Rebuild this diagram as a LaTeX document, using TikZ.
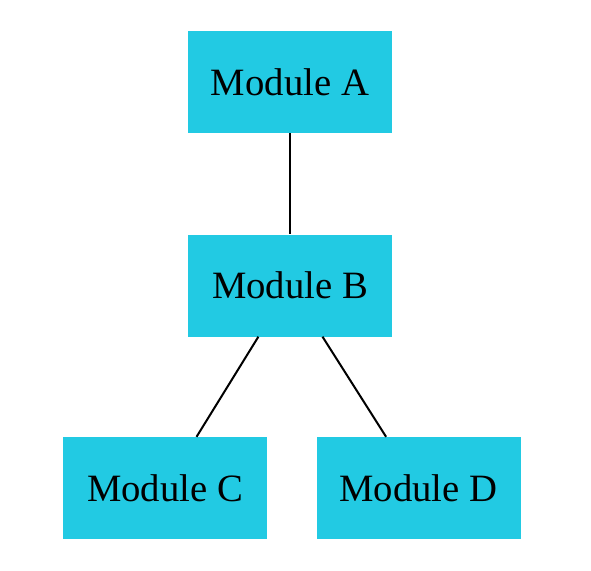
\documentclass[tikz,border=0pt]{standalone}
\usepackage{fontspec}
\setmainfont{Liberation Serif}
\definecolor{modcyan}{HTML}{22CAE3}
\begin{document}
\begin{tikzpicture}[x=1pt,y=-1pt,
  modbox/.style={fill=modcyan,draw=none,minimum width=204pt,minimum height=102pt,inner sep=0pt,font=\fontsize{38.7}{42}\selectfont},
  link/.style={line width=2pt,black}]
\useasboundingbox (0,0) rectangle (591,570);
\node[modbox] (A) at (290,82) {Module A};
\node[modbox] (B) at (290,285.5) {Module B};
\node[modbox] (C) at (165,488) {Module C};
\node[modbox] (D) at (418.5,488) {Module D};
\draw[link] (A) -- (B);
\draw[link] (B) -- (C);
\draw[link] (B) -- (D);
\end{tikzpicture}
\end{document}
